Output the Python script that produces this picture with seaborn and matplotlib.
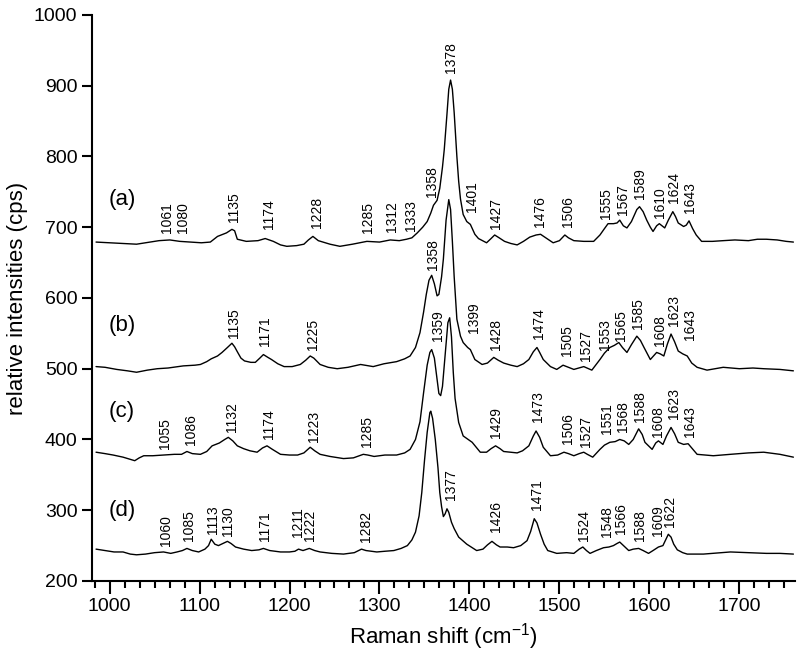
import pandas as pd
import matplotlib
matplotlib.use("Agg")
import matplotlib.pyplot as plt
from matplotlib.ticker import MultipleLocator
import seaborn as sns

# Espectros (deslocamento Raman em cm-1, intensidade em cps)
a_x = [985, 1000, 1015, 1030, 1045, 1055, 1067, 1078, 1090, 1102, 1112, 1120, 1130, 1136, 1139, 1142,
       1152, 1165, 1173, 1182, 1190, 1197, 1208, 1216, 1221, 1226, 1232, 1245, 1256, 1270, 1286, 1300,
       1312, 1322, 1330, 1336, 1342, 1348, 1353, 1357, 1360, 1364, 1367, 1370, 1372, 1375, 1377, 1379,
       1381, 1383, 1386, 1388, 1390, 1393, 1397, 1401, 1406, 1410, 1419, 1424, 1428, 1433, 1439, 1446,
       1453, 1460, 1467, 1474, 1479, 1486, 1493, 1500, 1506, 1510, 1516, 1527, 1538, 1545, 1550, 1554,
       1560, 1564, 1567, 1571, 1575, 1580, 1586, 1589, 1593, 1597, 1601, 1604, 1608, 1611, 1617, 1621,
       1626, 1629, 1632, 1638, 1641, 1644, 1648, 1652, 1658, 1670, 1682, 1695, 1710, 1720, 1730, 1742,
       1752, 1760]
a_y = [679, 678, 677, 676, 679, 681, 682, 680, 679, 678, 679, 687, 692, 697, 695, 683,
       680, 681, 684, 680, 675, 673, 674, 676, 682, 687, 681, 676, 673, 676, 680, 679,
       682, 681, 683, 685, 692, 700, 708, 720, 731, 738, 755, 785, 810, 860, 895, 908,
       895, 862, 800, 765, 740, 718, 708, 704, 690, 684, 678, 684, 689, 685, 680, 677,
       675, 680, 686, 689, 690, 684, 678, 681, 689, 685, 681, 680, 680, 689, 698, 705,
       705, 706, 710, 702, 699, 708, 725, 729, 722, 710, 700, 694, 702, 705, 699, 710,
       722, 715, 706, 701, 703, 709, 698, 689, 680, 680, 681, 682, 681, 683, 683, 682,
       680, 679]

b_x = [985, 995, 1008, 1020, 1030, 1042, 1053, 1065, 1082, 1095, 1101, 1108, 1113, 1120, 1125, 1131,
       1136, 1139, 1142, 1146, 1150, 1157, 1162, 1167, 1171, 1176, 1180, 1187, 1194, 1203, 1212, 1218,
       1223, 1227, 1234, 1243, 1253, 1265, 1279, 1293, 1305, 1319, 1328, 1334, 1340, 1345, 1349, 1352,
       1355, 1358, 1361, 1364, 1366, 1369, 1371, 1374, 1377, 1379, 1381, 1383, 1386, 1390, 1393, 1398,
       1401, 1406, 1414, 1420, 1427, 1432, 1438, 1446, 1453, 1460, 1466, 1471, 1475, 1478, 1482, 1490,
       1497, 1504, 1510, 1516, 1527, 1536, 1545, 1550, 1556, 1561, 1566, 1570, 1575, 1580, 1586, 1590,
       1594, 1601, 1608, 1612, 1616, 1620, 1624, 1628, 1632, 1637, 1642, 1647, 1653, 1664, 1682, 1700,
       1715, 1727, 1745, 1760]
b_y = [503, 502, 499, 497, 495, 498, 500, 501, 504, 505, 506, 510, 514, 518, 523, 530,
       536, 531, 524, 515, 511, 509, 509, 515, 520, 516, 513, 507, 503, 503, 506, 512,
       518, 515, 506, 502, 500, 502, 506, 503, 507, 510, 514, 518, 530, 551, 580, 605,
       625, 632, 620, 603, 605, 630, 655, 710, 739, 725, 680, 630, 570, 546, 537, 530,
       527, 513, 506, 508, 516, 512, 508, 505, 503, 507, 513, 524, 530, 523, 513, 503,
       499, 505, 502, 499, 503, 498, 513, 522, 530, 533, 537, 530, 523, 534, 546, 540,
       530, 513, 523, 521, 518, 535, 549, 538, 525, 521, 518, 508, 502, 498, 502, 500,
       501, 500, 499, 497]

c_x = [985, 995, 1004, 1015, 1028, 1033, 1038, 1048, 1060, 1072, 1080, 1086, 1092, 1101, 1108, 1114,
       1122, 1128, 1132, 1137, 1142, 1149, 1156, 1164, 1170, 1175, 1181, 1190, 1200, 1209, 1216, 1223,
       1228, 1234, 1245, 1260, 1271, 1282, 1287, 1294, 1306, 1319, 1328, 1334, 1340, 1345, 1349, 1353,
       1356, 1358, 1361, 1364, 1366, 1368, 1370, 1373, 1376, 1378, 1380, 1382, 1384, 1388, 1393, 1403,
       1412, 1419, 1424, 1429, 1434, 1438, 1453, 1459, 1466, 1471, 1474, 1478, 1482, 1490, 1498, 1505,
       1510, 1516, 1522, 1527, 1531, 1537, 1545, 1550, 1556, 1562, 1567, 1572, 1577, 1582, 1588, 1592,
       1595, 1603, 1607, 1610, 1615, 1619, 1624, 1628, 1632, 1638, 1643, 1647, 1653, 1671, 1690, 1710,
       1727, 1745, 1760]
c_y = [382, 380, 378, 375, 370, 374, 377, 377, 378, 379, 379, 383, 380, 379, 383, 391,
       395, 400, 403, 398, 391, 387, 384, 382, 388, 391, 386, 379, 378, 378, 381, 389,
       384, 379, 376, 373, 374, 379, 378, 376, 378, 378, 381, 386, 400, 425, 466, 505,
       523, 527, 515, 485, 465, 462, 475, 520, 565, 572, 545, 495, 458, 424, 405, 396,
       382, 382, 387, 391, 387, 383, 381, 384, 391, 405, 412, 403, 389, 377, 378, 382,
       380, 377, 380, 382, 379, 375, 386, 392, 396, 397, 400, 398, 393, 400, 415, 407,
       396, 386, 395, 398, 393, 405, 417, 408, 396, 393, 394, 388, 379, 377, 379, 381,
       382, 379, 375]

d_x = [985, 995, 1005, 1015, 1023, 1030, 1040, 1050, 1060, 1068, 1075, 1081, 1086, 1092, 1099, 1106,
       1110, 1113, 1117, 1121, 1126, 1131, 1135, 1140, 1149, 1158, 1166, 1171, 1178, 1190, 1200, 1206,
       1210, 1215, 1222, 1228, 1234, 1247, 1260, 1272, 1280, 1285, 1297, 1306, 1316, 1324, 1331, 1336,
       1340, 1344, 1347, 1350, 1353, 1356, 1357, 1359, 1362, 1365, 1367, 1369, 1371, 1373, 1375, 1377,
       1380, 1383, 1388, 1397, 1408, 1415, 1420, 1425, 1430, 1434, 1442, 1449, 1457, 1464, 1468, 1472,
       1475, 1479, 1483, 1487, 1497, 1508, 1516, 1522, 1526, 1530, 1534, 1541, 1549, 1555, 1560, 1564,
       1567, 1572, 1577, 1582, 1588, 1593, 1599, 1604, 1610, 1615, 1618, 1621, 1624, 1627, 1631, 1637,
       1642, 1660, 1680, 1690, 1710, 1730, 1745, 1760]
d_y = [245, 243, 241, 241, 238, 237, 238, 240, 241, 239, 241, 243, 246, 243, 241, 245,
       250, 259, 252, 250, 253, 256, 253, 248, 245, 243, 244, 246, 243, 241, 241, 242,
       245, 243, 246, 243, 241, 239, 238, 240, 245, 243, 241, 242, 243, 246, 250, 258,
       269, 292, 325, 370, 410, 438, 440, 430, 400, 360, 325, 305, 291, 295, 302, 297,
       283, 274, 262, 252, 243, 245, 251, 256, 251, 248, 248, 247, 250, 257, 270, 288,
       282, 266, 252, 243, 239, 240, 239, 245, 248, 243, 239, 243, 247, 248, 250, 253,
       255, 249, 243, 245, 246, 243, 239, 243, 248, 250, 258, 266, 262, 252, 244, 240,
       238, 238, 240, 241, 240, 239, 239, 238]

# Rótulos dos picos: texto, posição x e base do texto (em unidades dos dados)
a_picos = ["1061", "1080", "1135", "1174", "1228", "1285", "1312", "1333", "1358", "1378",
           "1401", "1427", "1476", "1506", "1555", "1567", "1589", "1610", "1624", "1643"]
a_pico_x = [1064, 1082, 1138, 1177, 1230, 1287, 1314, 1335, 1358, 1380,
            1403, 1429, 1478, 1509, 1552, 1571, 1590, 1612, 1627, 1645]
a_pico_y = [692, 692, 707, 697, 699, 692, 693, 694, 743, 918,
            722, 697, 701, 701, 711, 717, 740, 713, 734, 720]

b_picos = ["1135", "1171", "1225", "1358", "1399", "1428", "1474", "1505", "1527", "1553",
           "1565", "1585", "1608", "1623", "1643"]
b_pico_x = [1138, 1173, 1226, 1360, 1405, 1430, 1477, 1508, 1530, 1551,
            1568, 1587, 1612, 1627, 1645]
b_pico_y = [544, 532, 527, 640, 551, 527, 542, 518, 511, 527,
            539, 556, 532, 560, 541]

c_picos = ["1055", "1086", "1132", "1174", "1223", "1285", "1359", "1429", "1473", "1506",
           "1527", "1551", "1568", "1588", "1608", "1623", "1643"]
c_pico_x = [1062, 1090, 1136, 1177, 1227, 1286, 1365, 1430, 1476, 1510,
            1530, 1553, 1571, 1590, 1610, 1627, 1645]
c_pico_y = [386, 392, 410, 400, 396, 389, 539, 402, 425, 393,
            390, 408, 411, 425, 404, 429, 404]

d_picos = ["1060", "1085", "1113", "1130", "1171", "1211", "1222", "1282", "1377", "1426",
           "1471", "1524", "1548", "1566", "1588", "1609", "1622"]
d_pico_x = [1063, 1088, 1115, 1132, 1173, 1209, 1223, 1285, 1379, 1429,
            1475, 1527, 1553, 1568, 1590, 1609, 1623]
d_pico_y = [250, 257, 266, 264, 257, 262, 256, 255, 314, 269,
            300, 257, 262, 267, 257, 264, 276]

nomes = ["(a)", "(b)", "(c)", "(d)"]
nomes_y = [739, 561, 440, 300]

# Tema e fontes (tudo em preto, como no original)
sns.set_style("ticks")
plt.rcParams["font.family"] = ["Liberation Sans", "DejaVu Sans"]
plt.rcParams["mathtext.fontset"] = "custom"
plt.rcParams["mathtext.rm"] = "Liberation Sans"
plt.rcParams["mathtext.default"] = "regular"
for chave in ["text.color", "axes.labelcolor", "axes.edgecolor", "xtick.color", "ytick.color"]:
    plt.rcParams[chave] = "black"

fig = plt.figure(figsize=(8, 6.62), dpi=100)
ax = fig.add_axes([0.115, 0.1224, 0.879, 0.855])

espectros = [(a_x, a_y), (b_x, b_y), (c_x, c_y), (d_x, d_y)]
for xs, ys in espectros:
    sns.lineplot(x=xs, y=ys, ax=ax, color="black", linewidth=1.0)

rotulos = [(a_picos, a_pico_x, a_pico_y), (b_picos, b_pico_x, b_pico_y),
           (c_picos, c_pico_x, c_pico_y), (d_picos, d_pico_x, d_pico_y)]
for textos, xs, ys in rotulos:
    for t, x, y in zip(textos, xs, ys):
        ax.text(x, y, t, rotation=90, ha="center", va="bottom", fontsize=10)

for nome, y in zip(nomes, nomes_y):
    ax.text(999, y, nome, ha="left", va="center", fontsize=16)

ax.set_xlim(980.5, 1762)
ax.set_ylim(200, 1000)
ax.xaxis.set_major_locator(MultipleLocator(100))
ax.xaxis.set_minor_locator(MultipleLocator(100 / 6))
ax.yaxis.set_major_locator(MultipleLocator(100))
ax.tick_params(axis="x", which="major", length=9, width=1.5, labelsize=14, direction="out")
ax.tick_params(axis="x", which="minor", length=5, width=1.5, direction="out")
ax.tick_params(axis="y", which="major", length=7, width=1.5, labelsize=14, direction="out")
for lado in ["left", "bottom"]:
    ax.spines[lado].set_linewidth(1.5)
sns.despine(ax=ax)

ax.set_xlabel("Raman shift (cm$^{-1}$)", fontsize=16)
ax.set_ylabel("relative intensities (cps)", fontsize=16)

fig.savefig("out.png", dpi=100)
